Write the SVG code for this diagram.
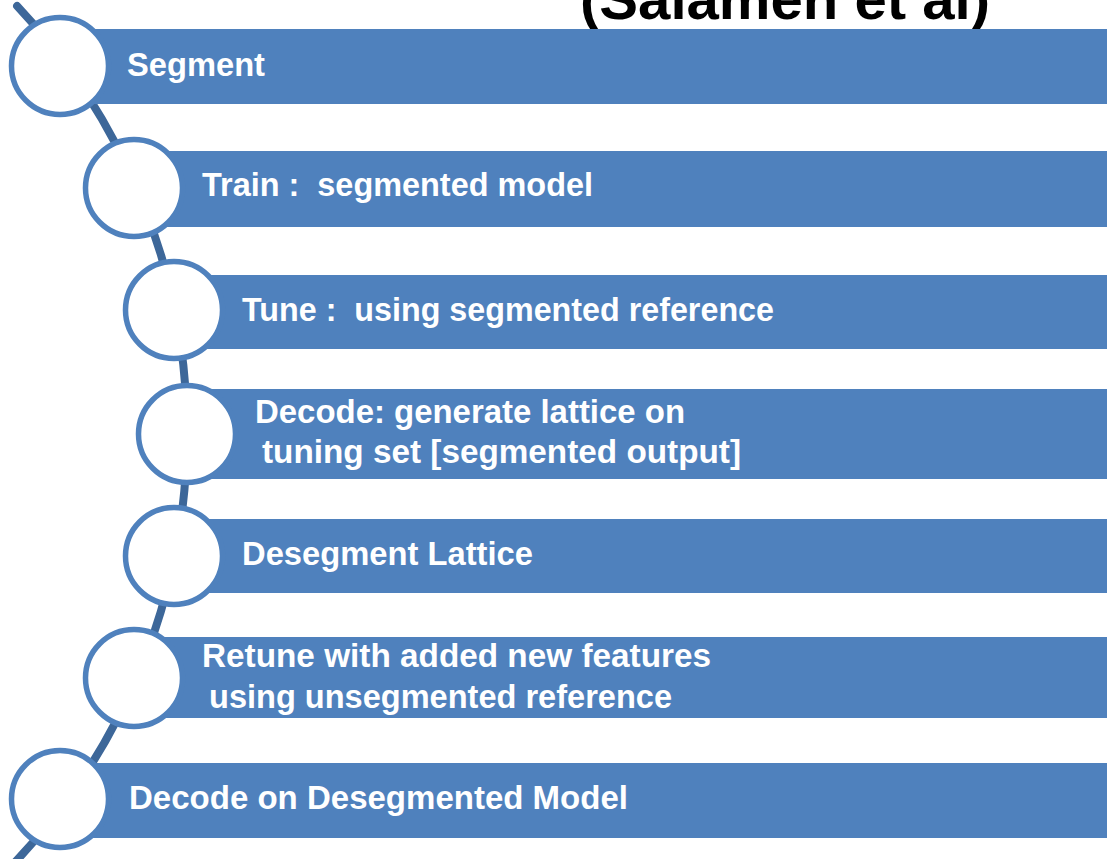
<svg xmlns="http://www.w3.org/2000/svg" width="1107" height="859" viewBox="0 0 1107 859">
  <style>
    .bar { fill: #4f81bd; }
    .node-circle { fill: #ffffff; stroke: #4f81bd; stroke-width: 5.5; }
    .label { font-family: "Liberation Sans", Arial, sans-serif; font-weight: bold; font-size: 33px; fill: #ffffff; }
    .title { font-family: "Liberation Sans", Arial, sans-serif; font-weight: bold; font-size: 58px; fill: #000000; }
    .spine { fill: none; stroke: #3d6799; stroke-width: 8; stroke-linecap: round; }
  </style>
  <rect width="1107" height="859" fill="#ffffff"/>
  <text class="title" x="580" y="19" textLength="410" lengthAdjust="spacingAndGlyphs">(Salameh et al)</text>
  <g id="connectors">
    <path class="spine" d="M 17.1 6 A 621.6 621.6 0 0 1 15.2 862"/>
  </g>
  <g id="node1">
    <rect class="bar" x="60" y="29" width="1047" height="75"/>
    <circle class="node-circle" cx="60" cy="66" r="48.5"/>
    <text class="label" x="127" y="76" textLength="138" lengthAdjust="spacingAndGlyphs">Segment</text>
  </g>
  <g id="node2">
    <rect class="bar" x="134" y="151" width="973" height="76"/>
    <circle class="node-circle" cx="134" cy="188" r="48.5"/>
    <text class="label" x="202" y="196" xml:space="preserve" textLength="391" lengthAdjust="spacingAndGlyphs">Train :  segmented model</text>
  </g>
  <g id="node3">
    <rect class="bar" x="174" y="275" width="933" height="74"/>
    <circle class="node-circle" cx="174" cy="310" r="48.5"/>
    <text class="label" x="242" y="321" xml:space="preserve" textLength="532" lengthAdjust="spacingAndGlyphs">Tune :  using segmented reference</text>
  </g>
  <g id="node4">
    <rect class="bar" x="187" y="389" width="920" height="90"/>
    <circle class="node-circle" cx="187" cy="434" r="48.5"/>
    <text class="label" x="255" y="423" textLength="430" lengthAdjust="spacingAndGlyphs">Decode: generate lattice on</text>
    <text class="label" x="262" y="463" textLength="479" lengthAdjust="spacingAndGlyphs">tuning set [segmented output]</text>
  </g>
  <g id="node5">
    <rect class="bar" x="174" y="519" width="933" height="74"/>
    <circle class="node-circle" cx="174" cy="556" r="48.5"/>
    <text class="label" x="242" y="565" textLength="291" lengthAdjust="spacingAndGlyphs">Desegment Lattice</text>
  </g>
  <g id="node6">
    <rect class="bar" x="134" y="637" width="973" height="81"/>
    <circle class="node-circle" cx="134" cy="678" r="48.5"/>
    <text class="label" x="202" y="667" textLength="509" lengthAdjust="spacingAndGlyphs">Retune with added new features</text>
    <text class="label" x="209" y="708" textLength="463" lengthAdjust="spacingAndGlyphs">using unsegmented reference</text>
  </g>
  <g id="node7">
    <rect class="bar" x="60" y="763" width="1047" height="75"/>
    <circle class="node-circle" cx="60" cy="799" r="48.5"/>
    <text class="label" x="129" y="809" textLength="499" lengthAdjust="spacingAndGlyphs">Decode on Desegmented Model</text>
  </g>
</svg>
